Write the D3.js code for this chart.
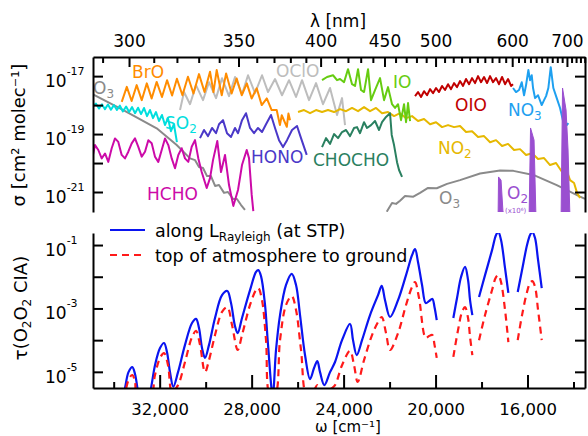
<!DOCTYPE html>
<html>
<head>
<meta charset="utf-8">
<script src="https://cdn.jsdelivr.net/npm/d3@7"></script>
<style>
  body { margin: 0; background: #fff; }
  text { font-family: "DejaVu Sans", Verdana, sans-serif; }
</style>
</head>
<body>
<script>
// ---- data: wavenumber [cm-1], log10(sigma [cm2 molec-1]) ----
const o3Huggins = [[34900,-17.63],[33580,-18.17],[32130,-18.80],[31260,-19.38],[30680,-19.84],[30460,-19.90],[30290,-20.14],[30115,-20.17],[29940,-20.45],[29770,-20.45],[29590,-20.79],[29420,-20.76],[29200,-21.03],[29030,-21.00],[28810,-21.24],[28640,-21.24],[28460,-21.45],[28290,-21.62]];
const o3Chappuis = [[22124,-21.68],[21894,-21.38],[21719,-21.41],[21545,-21.30],[21328,-21.14],[20967,-21.16],[20675,-21.03],[20327,-20.86],[19949,-20.87],[19500,-20.72],[18935,-20.59],[18065,-20.36],[17195,-20.26],[16617,-20.27],[15747,-20.41],[14729,-20.76],[13715,-21.16],[13498,-21.24]];
const broSigma = [[33650,-17.89],[33430,-17.37],[33220,-17.86],[33000,-17.31],[32780,-17.83],[32560,-17.25],[32350,-17.77],[32130,-17.20],[31900,-17.72],[31680,-17.14],[31460,-17.67],[31250,-17.09],[31010,-17.66],[30770,-17.02],[30530,-17.60],[30290,-16.93],[30050,-17.55],[29810,-16.85],[29660,-17.55],[29520,-16.79],[29300,-17.66],[29110,-16.91],[28870,-17.60],[28650,-17.08],[28430,-17.66],[28210,-17.25],[28000,-17.77],[27780,-17.42],[27560,-18.00],[27340,-17.77],[27130,-18.17],[26910,-18.17],[26770,-18.69],[26690,-18.35],[26470,-18.75],[26400,-18.29],[26330,-18.52]];
const ocloSigma = [[31115,-18.17],[30941,-17.55],[30680,-17.97],[30419,-17.31],[30115,-17.83],[29854,-17.21],[29549,-17.76],[29288,-17.07],[28984,-17.69],[28723,-17.03],[28418,-17.62],[28157,-16.97],[27853,-17.59],[27548,-16.97],[27287,-17.55],[26983,-17.10],[26678,-17.66],[26374,-17.14],[26069,-17.72],[25808,-17.14],[25504,-17.83],[25199,-17.24],[24895,-17.97],[24590,-17.41],[24286,-18.34],[24068,-17.76],[23938,-18.69]];
const so2Sigma = [[34900,-18.03],[34770,-17.95],[34640,-18.12],[34510,-17.97],[34380,-18.14],[34250,-17.98],[34120,-18.16],[33990,-18.00],[33860,-18.17],[33730,-18.02],[33600,-18.22],[33460,-18.05],[33330,-18.24],[33200,-18.07],[33070,-18.28],[32940,-18.09],[32810,-18.31],[32680,-18.10],[32550,-18.38],[32420,-18.17],[32290,-18.45],[32160,-18.24],[32030,-18.55],[31900,-18.34],[31770,-18.69],[31640,-18.45],[31510,-18.90],[31380,-18.66],[31250,-19.28]];
const hchoSigma = [[34900,-19.72],[34813,-19.38],[34669,-19.55],[34522,-19.84],[34378,-19.67],[34234,-19.96],[34087,-19.49],[33943,-19.15],[33800,-19.27],[33652,-19.72],[33508,-19.84],[33364,-19.61],[33217,-19.32],[33073,-19.15],[32929,-19.44],[32782,-19.78],[32638,-19.61],[32494,-19.21],[32347,-19.32],[32203,-19.78],[32060,-19.96],[31912,-19.55],[31768,-19.15],[31624,-19.38],[31477,-19.84],[31333,-20.18],[31189,-19.72],[31042,-19.49],[30898,-19.84],[30754,-19.96],[30607,-19.44],[30463,-19.21],[30319,-19.84],[30172,-20.31],[29954,-20.86],[29810,-20.52],[29680,-19.90],[29493,-19.24],[29332,-20.31],[29158,-19.72],[28984,-20.76],[28797,-21.48],[28593,-20.93],[28419,-20.07],[28214,-19.55],[28114,-19.83],[27997,-21.10],[27927,-21.66]];
const honoSigma = [[30245,-19.14],[30071,-18.86],[29897,-19.07],[29723,-18.79],[29549,-18.97],[29419,-18.66],[29245,-18.52],[29071,-18.97],[28897,-19.10],[28723,-18.79],[28592,-18.97],[28418,-18.52],[28244,-18.28],[28070,-18.79],[27896,-18.97],[27722,-18.79],[27548,-18.93],[27374,-18.66],[27157,-18.34],[26983,-18.79],[26809,-19.21],[26635,-19.45],[26461,-19.21],[26243,-18.86],[26026,-18.72],[25852,-19.14],[25604,-19.72]];
const no2Sigma = [[25982,-18.24],[25721,-18.17],[25460,-18.28],[25199,-18.17],[24938,-18.24],[24677,-18.17],[24416,-18.24],[24155,-18.14],[23894,-18.21],[23633,-18.10],[23372,-18.21],[23111,-18.07],[22850,-18.21],[22589,-18.10],[22328,-18.28],[22067,-18.24],[21806,-18.38],[21545,-18.28],[21284,-18.45],[21023,-18.38],[20762,-18.55],[20501,-18.48],[20240,-18.66],[19979,-18.59],[19718,-18.76],[19457,-18.69],[19196,-18.76],[18935,-18.72],[18674,-18.93],[18413,-18.90],[18152,-19.10],[17891,-19.07],[17630,-19.28],[17369,-19.21],[17108,-19.41],[16847,-19.34],[16586,-19.55],[16325,-19.52],[16064,-19.72],[15803,-19.66],[15542,-19.86],[15281,-19.83],[15020,-20.07],[14759,-20.00],[14498,-20.31],[14324,-20.21],[14150,-20.59],[13976,-20.69],[13846,-21.03],[13715,-21.21]];
const ioSigma = [[24938,-17.14],[24721,-17.03],[24460,-16.97],[24286,-17.14],[24155,-17.10],[23981,-17.21],[23807,-16.76],[23633,-17.28],[23503,-17.34],[23372,-16.76],[23242,-17.48],[23111,-17.55],[22937,-16.76],[22807,-17.83],[22633,-17.48],[22415,-17.07],[22241,-17.83],[22067,-17.38],[21893,-17.97],[21763,-18.10],[21632,-17.97],[21502,-18.52],[21371,-17.97],[21284,-18.59],[21197,-17.93],[21110,-18.55]];
const chochoSigma = [[24938,-19.45],[24764,-19.14],[24590,-19.34],[24416,-19.00],[24242,-19.14],[24068,-18.93],[23894,-18.86],[23720,-19.07],[23546,-18.79],[23416,-18.76],[23285,-18.97],[23111,-18.59],[22981,-18.79],[22807,-18.69],[22633,-18.55],[22459,-18.86],[22328,-18.59],[22154,-18.41],[21980,-18.28],[21907,-19.03],[21806,-19.38],[21676,-19.97],[21589,-20.24],[21458,-20.48]];
const oioSigma = [[20893,-17.69],[20762,-17.55],[20632,-17.72],[20501,-17.52],[20371,-17.66],[20240,-17.45],[20110,-17.59],[19979,-17.41],[19849,-17.55],[19718,-17.34],[19588,-17.48],[19457,-17.28],[19327,-17.45],[19196,-17.24],[19066,-17.38],[18935,-17.17],[18805,-17.34],[18674,-17.10],[18544,-17.28],[18413,-17.07],[18283,-17.24],[18152,-17.00],[18022,-17.21],[17891,-17.03],[17761,-17.24],[17630,-17.00],[17500,-17.21],[17369,-17.07],[17239,-17.28],[17108,-17.03],[16978,-17.28],[16847,-17.10],[16717,-17.34],[16630,-17.28]];
const no3Sigma = [[16630,-17.41],[16499,-17.55],[16369,-17.48],[16252,-17.21],[16151,-17.66],[16064,-17.31],[15964,-16.79],[15890,-17.14],[15817,-16.97],[15760,-17.41],[15673,-17.76],[15542,-17.66],[15382,-18.00],[15281,-17.83],[15194,-17.69],[15094,-17.41],[14990,-16.69],[14877,-17.41],[14729,-17.76],[14585,-18.10],[14442,-18.59],[14294,-18.69],[14224,-18.62]];
// O2 bands (x10^6)
const o2Band1 = [[17282,-22],[17261,-20.48],[17152,-20.59],[17043,-22]];
const o2Band2 = [[15934,-22],[15869,-18.79],[15716,-19.21],[15629,-22]];
const o2Band3 = [[14542,-22],[14477,-17.41],[14324,-18.17],[14237,-19.55],[14150,-22]];

// ---- data: wavenumber [cm-1], log10(tau O2O2 CIA) ----
const tauRayleigh1 = [[33638,-5.89],[33508,-5.51],[33356,-5.01],[33190,-4.85],[33073,-5.07],[32956,-5.57],[32855,-6.05],[32507,-5.89],[32377,-5.51],[32203,-4.79],[31985,-4.25],[31811,-4.09],[31681,-4.38],[31550,-5.01],[31407,-5.47],[31202,-5.01],[30898,-4.15],[30593,-3.46],[30419,-3.33],[30289,-3.62],[30158,-4.25],[30028,-4.56],[29854,-4.15],[29593,-3.30],[29288,-2.58],[29058,-2.45],[28897,-2.83],[28723,-3.56],[28606,-3.78],[28418,-3.30],[28070,-2.42],[27809,-1.85],[27709,-1.79],[27592,-1.98],[27418,-2.89],[27287,-4.15],[27083,-5.73],[26939,-4.31],[26765,-3.21],[26504,-2.26],[26257,-1.91],[26069,-2.26],[25895,-3.21],[25678,-4.47],[25460,-5.23],[25286,-4.88],[25143,-4.66],[25025,-5.01],[24838,-5.42],[24590,-5.01],[24373,-4.69],[24068,-4.00],[23720,-3.49],[23590,-4.00],[23429,-4.47],[23198,-4.00],[22850,-3.21],[22502,-2.58],[22342,-2.29],[22198,-2.74],[21980,-3.27],[21632,-2.74],[21284,-1.95],[21023,-1.32],[20893,-1.13],[20762,-1.54],[20588,-2.26],[20428,-2.83],[20284,-2.77],[20140,-2.70],[20045,-2.96],[19949,-3.37]];
const tauRayleigh2 = [[19227,-3.30],[19066,-2.67],[18892,-2.01],[18718,-1.69],[18587,-2.10],[18500,-2.74],[18400,-3.21]];
const tauRayleigh3 = [[18109,-2.64],[17848,-1.95],[17543,-1.16],[17369,-0.68],[17269,-0.59],[17152,-0.84],[16978,-1.73],[16834,-2.51]];
const tauRayleigh4 = [[16426,-2.48],[16238,-1.79],[16021,-1.00],[15890,-0.68],[15790,-0.59],[15673,-0.78],[15542,-1.47],[15382,-2.36]];
const tauToa1 = [[33551,-5.89],[33356,-5.26],[33190,-5.10],[33073,-5.32],[32986,-5.73],[32420,-5.89],[32203,-5.10],[31985,-4.56],[31811,-4.41],[31637,-4.79],[31463,-5.64],[31202,-5.42],[30898,-4.69],[30593,-3.90],[30419,-3.71],[30245,-4.15],[30028,-5.01],[29854,-4.63],[29593,-3.84],[29288,-3.11],[29058,-2.96],[28853,-3.52],[28606,-4.31],[28418,-3.84],[28070,-2.89],[27809,-2.42],[27709,-2.36],[27548,-2.74],[27374,-4.00],[27200,-5.73],[26983,-5.73],[26765,-4.00],[26504,-2.89],[26257,-2.61],[26069,-3.05],[25852,-4.31],[25604,-5.73],[25286,-5.57],[25143,-5.42],[24982,-5.67],[24808,-5.89],[24590,-5.57],[24373,-5.42],[24068,-4.79],[23720,-4.34],[23546,-4.79],[23386,-5.32],[23111,-4.63],[22763,-3.84],[22502,-3.43],[22342,-3.27],[22154,-3.78],[21980,-4.31],[21632,-3.78],[21284,-2.89],[21023,-2.32],[20893,-2.17],[20719,-2.67],[20428,-3.93],[20284,-3.87],[20140,-3.84],[20045,-4.15],[19949,-4.56]];
const tauToa2 = [[19227,-4.53],[19022,-3.68],[18848,-3.11],[18718,-2.96],[18587,-3.30],[18500,-3.90],[18400,-4.47]];
const tauToa3 = [[18109,-4.00],[17848,-3.21],[17543,-2.42],[17369,-2.01],[17269,-1.95],[17152,-2.17],[16978,-3.05],[16834,-4.06]];
const tauToa4 = [[16426,-4.00],[16238,-3.21],[16021,-2.48],[15890,-2.20],[15790,-2.14],[15673,-2.32],[15542,-3.05],[15382,-4.00]];

// ---- ticks ----
const lambdaMajor = [300, 350, 400, 450, 500, 600, 700];
const lambdaMinor = [290,310,320,330,340,360,370,380,390,410,420,430,440,460,470,480,490,510,520,530,540,550,560,570,580,590,610,620,630,640,650,660,670,680,690,710,720,730,740];
const omegaMajor = [32000, 28000, 24000, 20000, 16000];
const omegaMinor = [34000, 30000, 26000, 22000, 18000, 14000];
const sigmaTicks = [1e-17, 1e-18, 1e-19, 1e-20, 1e-21];
const sigmaLabelled = [-17, -19, -21];
const tauTicks = [1e-1, 1e-2, 1e-3, 1e-4, 1e-5];
const tauLabelled = [-1, -3, -5];

const width = 588, height = 436;
const svg = d3.select("body").append("svg")
    .attr("width", width)
    .attr("height", height);

// scales (both panels share the wavenumber axis)
const x = d3.scaleLinear().domain([34900, 13500]).range([93, 585]);
const ySig = d3.scaleLog().domain([10 ** -21.69, 10 ** -16.34]).range([212, 57]);
const yTau = d3.scaleLog().domain([10 ** -5.51, 10 ** -0.62]).range([388, 233]);

const defs = svg.append("defs");
defs.append("clipPath").attr("id", "clipTop").append("rect")
    .attr("x", 93).attr("y", 57).attr("width", 492).attr("height", 155);
defs.append("clipPath").attr("id", "clipBot").append("rect")
    .attr("x", 93).attr("y", 233).attr("width", 492).attr("height", 155);

function styleAxis(g, size) {
    g.attr("font-family", null).attr("font-size", size);
    g.selectAll("path, line").attr("stroke", "#000").attr("stroke-width", 2);
    g.selectAll("text").attr("fill", "#000");
}

// superscript labels like 10^-17
function powLabels(g, keep) {
    g.selectAll(".tick text").each(function(d) {
        const e = Math.round(Math.log10(d));
        const t = d3.select(this).text(null);
        if (!keep.includes(e)) return;
        t.attr("text-anchor", "start").attr("x", -48).attr("dy", "0.62em");
        t.append("tspan").text("10");
        t.append("tspan").attr("font-size", 11).attr("dy", "-1.1em").text(e);
    });
}

// ---- top panel ----
const topPanel = svg.append("g");
const plotTop = topPanel.append("g").attr("clip-path", "url(#clipTop)");
const lineSig = d3.line().x(d => x(d[0])).y(d => ySig(10 ** d[1]));

const spectra = [
    [o3Huggins, "#8a8a8a"],
    [o3Chappuis, "#8a8a8a"],
    [ocloSigma, "#bdbdbd"],
    [so2Sigma, "#00dede"],
    [broSigma, "#ff8c00"],
    [hchoSigma, "#cc0aa8"],
    [honoSigma, "#4a38c8"],
    [no2Sigma, "#e6b800"],
    [chochoSigma, "#2a8060"],
    [ioSigma, "#66cc11"],
    [oioSigma, "#c00000"],
    [no3Sigma, "#1ea0f0"]
];
spectra.forEach(([data, color]) => {
    plotTop.append("path")
        .datum(data)
        .attr("fill", "none")
        .attr("stroke", color)
        .attr("stroke-width", 2)
        .attr("stroke-linejoin", "round")
        .attr("d", lineSig);
});

const areaO2 = d3.area()
    .x(d => x(d[0]))
    .y0(ySig.range()[0])
    .y1(d => ySig(10 ** d[1]));
[o2Band1, o2Band2, o2Band3].forEach(b => {
    plotTop.append("path")
        .datum(b)
        .attr("fill", "#9a4fd0")
        .attr("stroke", "#9a4fd0")
        .attr("stroke-width", 1)
        .attr("d", areaO2);
});

// species labels
function label(main, sub, px, py, color, size = 17) {
    const t = topPanel.append("text")
        .attr("x", px).attr("y", py)
        .attr("font-size", size)
        .attr("fill", color)
        .text(main);
    if (sub) t.append("tspan").attr("font-size", 12).attr("dy", 4).text(sub);
    return t;
}
label("O", "3", 93, 94, "#8a8a8a");
label("BrO", null, 132, 78, "#ff8c00");
label("SO", "2", 165, 129, "#00dede");
label("HCHO", null, 147, 200, "#cc0aa8");
label("HONO", null, 251, 163, "#4a38c8");
label("OClO", null, 276, 77, "#bdbdbd");
label("IO", null, 393, 88, "#66cc11");
label("OIO", null, 455, 111, "#c00000");
label("NO", "3", 508, 116, "#1ea0f0");
label("CHOCHO", null, 313, 166, "#2a8060");
label("NO", "2", 438, 154, "#e6b800");
label("O", "3", 439, 204, "#8a8a8a");
label("O", "2", 507, 199, "#9a4fd0");
topPanel.append("text").attr("x", 505).attr("y", 213).attr("font-size", 7)
    .attr("fill", "#9a4fd0").text("(x10⁶)");

// top axis in wavelength
const gTopMinor = topPanel.append("g").attr("transform", "translate(0,57)")
    .call(d3.axisTop(x).tickValues(lambdaMinor.map(l => 1e7 / l))
        .tickFormat("").tickSize(-6).tickSizeOuter(0));
gTopMinor.select(".domain").remove();
styleAxis(gTopMinor, 17);
const gTop = topPanel.append("g").attr("transform", "translate(0,57)")
    .call(d3.axisTop(x).tickValues(lambdaMajor.map(l => 1e7 / l))
        .tickFormat(w => Math.round(1e7 / w)).tickSize(-10).tickSizeOuter(0).tickPadding(10));
styleAxis(gTop, 17);

const gSigL = topPanel.append("g").attr("transform", "translate(93,0)")
    .call(d3.axisLeft(ySig).tickValues(sigmaTicks).tickSize(-10).tickSizeOuter(0));
styleAxis(gSigL, 17);
powLabels(gSigL, sigmaLabelled);
const gSigR = topPanel.append("g").attr("transform", "translate(585,0)")
    .call(d3.axisRight(ySig).tickValues(sigmaTicks).tickFormat("").tickSize(-10).tickSizeOuter(0));
styleAxis(gSigR, 17);

topPanel.append("text")
    .attr("x", 338).attr("y", 27)
    .attr("text-anchor", "middle")
    .attr("font-size", 17)
    .text("λ [nm]");
topPanel.append("text")
    .attr("transform", "translate(25,135) rotate(-90)")
    .attr("text-anchor", "middle")
    .attr("font-size", 18)
    .text("σ [cm² molec⁻¹]");

// ---- bottom panel ----
const botPanel = svg.append("g");
const plotBot = botPanel.append("g").attr("clip-path", "url(#clipBot)");
const lineTau = d3.line().x(d => x(d[0])).y(d => yTau(10 ** d[1])).curve(d3.curveCatmullRom);

[tauRayleigh1, tauRayleigh2, tauRayleigh3, tauRayleigh4].forEach(s => {
    plotBot.append("path").datum(s)
        .attr("fill", "none").attr("stroke", "#0a14f0").attr("stroke-width", 2.2)
        .attr("d", lineTau);
});
[tauToa1, tauToa2, tauToa3, tauToa4].forEach(s => {
    plotBot.append("path").datum(s)
        .attr("fill", "none").attr("stroke", "#ff1a1a").attr("stroke-width", 2.2)
        .attr("stroke-dasharray", "7,5")
        .attr("d", lineTau);
});

const gTauL = botPanel.append("g").attr("transform", "translate(93,0)")
    .call(d3.axisLeft(yTau).tickValues(tauTicks).tickSize(-10).tickSizeOuter(0));
styleAxis(gTauL, 17);
powLabels(gTauL, tauLabelled);
const gTauR = botPanel.append("g").attr("transform", "translate(585,0)")
    .call(d3.axisRight(yTau).tickValues(tauTicks).tickFormat("").tickSize(-10).tickSizeOuter(0));
styleAxis(gTauR, 17);

const gBotMinor = botPanel.append("g").attr("transform", "translate(0,388)")
    .call(d3.axisBottom(x).tickValues(omegaMinor).tickFormat("").tickSize(-6).tickSizeOuter(0));
gBotMinor.select(".domain").remove();
styleAxis(gBotMinor, 17);
const gBot = botPanel.append("g").attr("transform", "translate(0,388)")
    .call(d3.axisBottom(x).tickValues(omegaMajor).tickFormat(d3.format(","))
        .tickSize(-13).tickSizeOuter(0).tickPadding(15));
styleAxis(gBot, 16.5);

botPanel.append("text")
    .attr("x", 348).attr("y", 432)
    .attr("text-anchor", "middle")
    .attr("font-size", 15)
    .text("ω [cm⁻¹]");
const tauTitle = botPanel.append("text")
    .attr("transform", "translate(27,308) rotate(-90)")
    .attr("text-anchor", "middle")
    .attr("font-size", 18)
    .text("τ(O");
tauTitle.append("tspan").attr("font-size", 12).attr("dy", 4).text("2");
tauTitle.append("tspan").attr("dy", -4).text("O");
tauTitle.append("tspan").attr("font-size", 12).attr("dy", 4).text("2");
tauTitle.append("tspan").attr("dy", -4).text(" CIA)");

// legend
const leg = botPanel.append("g");
leg.append("line").attr("x1", 110).attr("x2", 145).attr("y1", 230).attr("y2", 230)
    .attr("stroke", "#0a14f0").attr("stroke-width", 2.2);
const l1 = leg.append("text").attr("x", 155).attr("y", 237).attr("font-size", 17.5).text("along L");
l1.append("tspan").attr("font-size", 12).attr("dy", 4).text("Rayleigh");
l1.append("tspan").attr("dy", -4).text(" (at STP)");
leg.append("line").attr("x1", 110).attr("x2", 145).attr("y1", 255).attr("y2", 255)
    .attr("stroke", "#ff1a1a").attr("stroke-width", 2.2).attr("stroke-dasharray", "7,5");
leg.append("text").attr("x", 155).attr("y", 262).attr("font-size", 17.5).text("top of atmosphere to ground");
</script>
</body>
</html>
